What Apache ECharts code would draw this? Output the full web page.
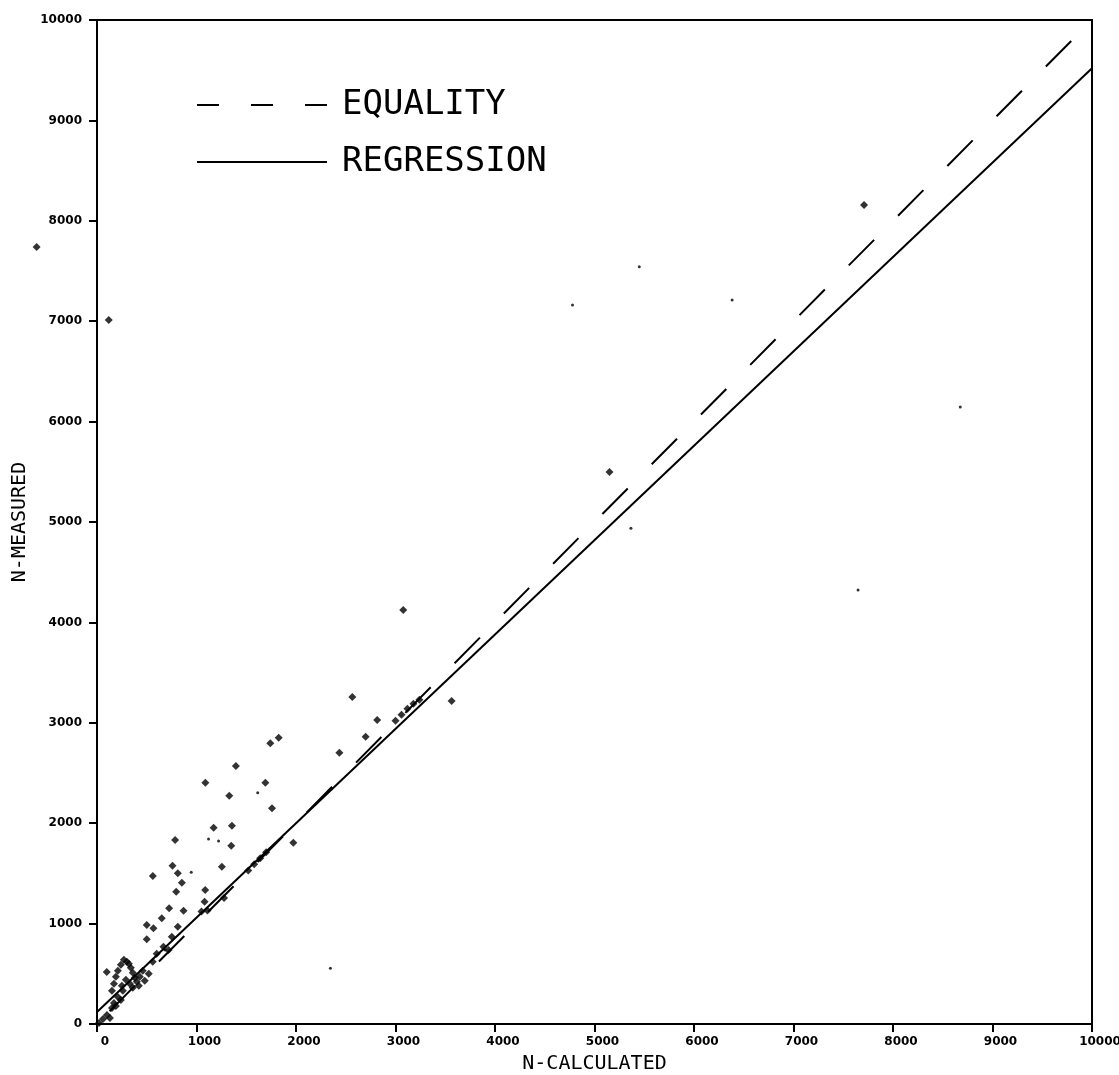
<!DOCTYPE html>
<html>
<head>
<meta charset="utf-8">
<title>N-calculated vs N-measured</title>
<script src="https://cdn.jsdelivr.net/npm/echarts@6/dist/echarts.min.js"></script>
<style>
  html, body { margin: 0; padding: 0; background: #fff; }
  #chart { width: 1119px; height: 1075px; }
</style>
</head>
<body>
<div id="chart"></div>
<script>
// tick values (both axes run 0..10000)
const tickValues = [0, 1000, 2000, 3000, 4000, 5000, 6000, 7000, 8000, 9000, 10000]

// equality line end points
const equalityX = [0, 9800]
const equalityY = [0, 9800]

// regression line end points
const regressionX = [0, 10000]
const regressionY = [120, 9520]

// measured points, big markers
const pointX = [
  -607, 118, 7709, 5151, 3078, 2566, 2816, 2700, 2436, 3564,
  1826, 1742, 1396, 1089, 1692, 1329, 1759, 1172, 1356, 1349,
  785, 1973, 1255, 759, 561, 812, 853, 796, 1087, 1081,
  725, 870, 651, 500, 567, 500, 752, 812, 668, 719, 98,
  1277, 1520, 1580, 1640, 1700, 3000, 3060, 3120, 3180, 3240, 1050, 1110,
  20, 60, 100, 130, 150, 170, 190, 210, 240, 260,
  150, 170, 190, 210, 240, 270, 300, 320, 340, 360,
  380, 400, 430, 460, 330, 290, 250, 360, 420, 480, 520, 560, 600
]
const pointY = [
  7739, 7012, 8157, 5498, 4124, 3257, 3028, 2862, 2702, 3217,
  2852, 2796, 2570, 2404, 2404, 2274, 2148, 1955, 1975, 1776,
  1833, 1806, 1567, 1577, 1474, 1501, 1407, 1318, 1335, 1218,
  1152, 1128, 1053, 986, 953, 844, 870, 969, 770, 737, 518,
  1255, 1530, 1590, 1650, 1710, 3020, 3080, 3140, 3190, 3230, 1120, 1130,
  10, 50, 90, 60, 160, 210, 180, 270, 240, 330,
  330, 400, 470, 530, 590, 640, 620, 600, 560, 510,
  460, 420, 470, 530, 400, 440, 380, 360, 380, 430, 500, 620, 700
]

// faint single dots
const dotX = [2346, 7649, 5366, 5450, 4779, 6383, 8676, 1615, 1222, 1121, 947, 686]
const dotY = [555, 4323, 4937, 7543, 7161, 7211, 6145, 2304, 1823, 1843, 1511, 737]

const zip = (xs, ys) => xs.map((x, i) => [x, ys[i]])

const chart = echarts.init(document.getElementById('chart'))

const axisCommon = {
  type: 'value',
  min: tickValues[0],
  max: tickValues[tickValues.length - 1],
  interval: 1000,
  nameLocation: 'middle',
  nameTextStyle: {
    fontFamily: 'DejaVu Sans Mono',
    fontSize: 20,
    color: '#000'
  },
  axisLine: { show: true, lineStyle: { color: '#000', width: 2 } },
  axisTick: { show: true, inside: false, length: 8, lineStyle: { color: '#000', width: 2 } },
  splitLine: { show: false },
  axisLabel: {
    color: '#000',
    fontFamily: 'DejaVu Sans',
    fontWeight: 'bold',
    fontSize: 12,
    // plain numbers, no thousands separator
    formatter: (v) => String(v)
  }
}

const option = {
  backgroundColor: '#fff',
  animation: false,
  grid: {
    left: 97,
    right: 27,
    top: 20,
    bottom: 51,
    containLabel: false,
    outerBoundsMode: 'none',
    show: true,
    borderColor: '#000',
    borderWidth: 2
  },
  legend: {
    data: [
      { name: 'EQUALITY', lineStyle: { type: [22, 32], dashOffset: 0 } },
      { name: 'REGRESSION' }
    ],
    orient: 'vertical',
    left: 196,
    top: 88,
    padding: 0,
    itemWidth: 130,
    itemHeight: 30,
    itemGap: 23,
    itemStyle: { opacity: 0 },
    textStyle: {
      fontFamily: 'DejaVu Sans Mono',
      fontSize: 34,
      color: '#000',
      padding: [0, 0, 0, 10]
    }
  },
  xAxis: Object.assign({}, axisCommon, {
    name: 'N-CALCULATED',
    nameGap: 30,
    axisLabel: Object.assign({}, axisCommon.axisLabel, { margin: 12, padding: [0, 0, 0, 16] })
  }),
  yAxis: Object.assign({}, axisCommon, {
    name: 'N-MEASURED',
    nameGap: 66,
    nameRotate: 90,
    axisLabel: Object.assign({}, axisCommon.axisLabel, { margin: 15 })
  }),
  series: [
    {
      name: 'EQUALITY',
      type: 'line',
      data: zip(equalityX, equalityY),
      symbol: 'none',
      lineStyle: { color: '#000', width: 2, type: [36, 34], dashOffset: 52 },
      itemStyle: { color: '#000' }
    },
    {
      name: 'REGRESSION',
      type: 'line',
      data: zip(regressionX, regressionY),
      symbol: 'none',
      lineStyle: { color: '#000', width: 2, type: 'solid' },
      itemStyle: { color: '#000' }
    },
    {
      name: 'points',
      type: 'scatter',
      clip: false,
      symbol: 'diamond',
      symbolSize: 8,
      itemStyle: { color: '#000' },
      data: zip(pointX, pointY)
    },
    {
      name: 'dots',
      type: 'scatter',
      symbol: 'circle',
      symbolSize: 3,
      itemStyle: { color: '#000' },
      data: zip(dotX, dotY)
    }
  ]
}

chart.setOption(option)
</script>
</body>
</html>
